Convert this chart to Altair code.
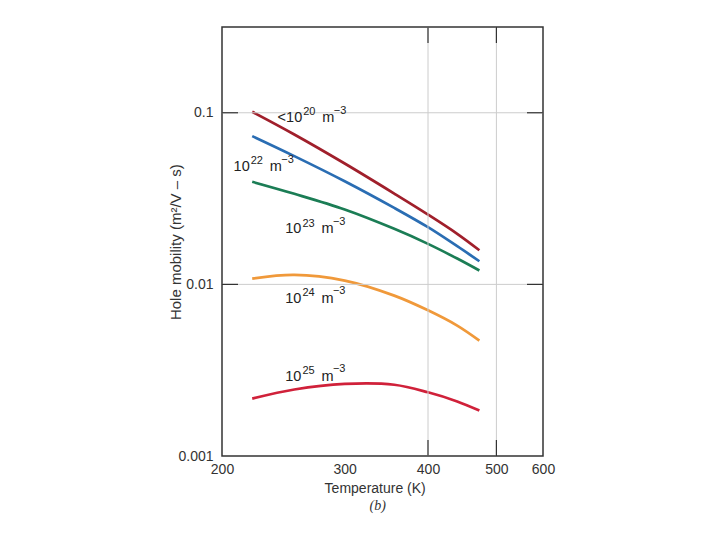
import altair as alt
import pandas as pd

# ---- data ----
temps = [221, 254, 300, 356, 400, 440, 473]
mu_lt1e20 = [0.1013, 0.0747, 0.0506, 0.0338, 0.0255, 0.0197, 0.0158]
mu_1e22 = [0.0731, 0.0559, 0.0399, 0.0279, 0.02153, 0.01668, 0.01364]
mu_1e23 = [0.0396, 0.0337, 0.0273, 0.02106, 0.01722, 0.01414, 0.01204]
mu_1e24 = [0.01081, 0.01136, 0.01052, 0.0086, 0.00706, 0.00575, 0.0047]
mu_1e25 = [0.00216, 0.00244, 0.00263, 0.00260, 0.00235, 0.00208, 0.00184]

series_names = ["<1e20", "1e22", "1e23", "1e24", "1e25"]
series_values = [mu_lt1e20, mu_1e22, mu_1e23, mu_1e24, mu_1e25]
series_colors = ["#a01f2b", "#2a6db3", "#1b7d55", "#f0993a", "#d0213a"]

label_prefix = ["<10", "10", "10", "10", "10"]
label_exp = ["20", "22", "23", "24", "25"]
label_T = [260.7, 219.2, 260.0, 260.0, 260.0]
label_mu = [0.0882, 0.0457, 0.0198, 0.0078, 0.00275]

x_ticks = [200, 300, 400, 500, 600]
y_ticks = [0.001, 0.01, 0.1]
grid_T = [400, 500]
grid_mu = [0.1, 0.01]

# ---- tables ----
rows = []
for name, vals in zip(series_names, series_values):
    for t, v in zip(temps, vals):
        rows.append({"series": name, "T": t, "mu": v})
df_lines = pd.DataFrame(rows)
df_labels = pd.DataFrame({"T": label_T, "mu": label_mu,
                          "prefix": label_prefix, "exp": label_exp})
df_gT = pd.DataFrame({"T": grid_T})
df_gmu = pd.DataFrame({"mu": grid_mu})

W, H = 321, 429
FONT = "Liberation Sans"
TXT = "#333333"

xscale = alt.Scale(type="log", domain=x_ticks, range=[0, 122.7, 206, 274.4, W], nice=False)
yscale = alt.Scale(type="log", domain=[0.001, 0.316], nice=False)

x_axis = alt.Axis(values=x_ticks, format="d", title="Temperature (K)", grid=False,
                  ticks=False, domain=False, labelFont=FONT, labelFontSize=14,
                  labelColor=TXT, labelPadding=6, labelFlush=False, labelOverlap=False,
                  titleFont=FONT, titleFontSize=14, titleFontWeight="normal",
                  titleColor=TXT, titleX=152.7, titleY=36, titleBaseline="alphabetic")
y_axis = alt.Axis(values=y_ticks, format=".3~f", title="Hole mobility (m²/V – s)",
                  grid=False, ticks=False, domain=False, labelFont=FONT,
                  labelFontSize=14, labelColor=TXT, labelPadding=9,
                  labelFlush=False, labelOverlap=False,
                  titleFont=FONT, titleFontSize=15, titleFontWeight="normal",
                  titleColor=TXT, titleX=-47, titleY=214.7, titleAngle=270,
                  titleAlign="center", titleBaseline="middle")

X = alt.X("T:Q", scale=xscale, axis=x_axis)
Y = alt.Y("mu:Q", scale=yscale, axis=y_axis)

lines = alt.Chart(df_lines).mark_line(strokeWidth=2.7, interpolate="catmull-rom").encode(
    x=X, y=Y,
    color=alt.Color("series:N", scale=alt.Scale(domain=series_names, range=series_colors),
                    legend=None),
)

grid_v = alt.Chart(df_gT).mark_rule(color="#cccccc", strokeWidth=1).encode(x=X)
grid_h = alt.Chart(df_gmu).mark_rule(color="#cccccc", strokeWidth=1).encode(y=Y)

tick_l = alt.Chart(df_gmu).mark_rule(color="#333333", strokeWidth=1.2).encode(
    y=Y, x=alt.value(0), x2=alt.value(16))
tick_r = alt.Chart(df_gmu).mark_rule(color="#333333", strokeWidth=1.2).encode(
    y=Y, x=alt.value(W - 16), x2=alt.value(W))
tick_t = alt.Chart(df_gT).mark_rule(color="#333333", strokeWidth=1.2).encode(
    x=X, y=alt.value(0), y2=alt.value(16))
tick_b = alt.Chart(df_gT).mark_rule(color="#333333", strokeWidth=1.2).encode(
    x=X, y=alt.value(H - 16), y2=alt.value(H))

lab_base = alt.Chart(df_labels).encode(x=X, y=Y)
t_prefix = lab_base.mark_text(align="right", baseline="alphabetic", font=FONT,
                              fontSize=14.5, color="#222222").encode(text="prefix:N")
t_exp = lab_base.mark_text(align="left", baseline="alphabetic", font=FONT,
                           fontSize=11, dx=1, dy=-6.7, color="#222222").encode(text="exp:N")
t_unit = lab_base.mark_text(align="left", baseline="alphabetic", font=FONT,
                            fontSize=14.5, dx=20, color="#222222").encode(text=alt.value("m"))
t_uexp = lab_base.mark_text(align="left", baseline="alphabetic", font=FONT,
                            fontSize=11, dx=31.5, dy=-8.5, color="#222222").encode(text=alt.value("−3"))

sub = alt.Chart(pd.DataFrame({"t": ["(b)"]})).mark_text(
    font="Liberation Serif", fontStyle="italic", fontSize=14, color=TXT,
    baseline="middle", align="center").encode(
    text="t:N", x=alt.value(155.7), y=alt.value(H + 50))

chart = alt.layer(lines, grid_v, grid_h, tick_l, tick_r, tick_t, tick_b,
                  t_prefix, t_exp, t_unit, t_uexp, sub).properties(
    width=W, height=H,
    padding={"left": 214, "top": 19, "right": 169, "bottom": 76},
    autosize=alt.AutoSizeParams(type="none"),
).configure_view(stroke="#333333", strokeWidth=1.5)

chart.save("out.html", embed_options={"renderer": "svg", "actions": False})
